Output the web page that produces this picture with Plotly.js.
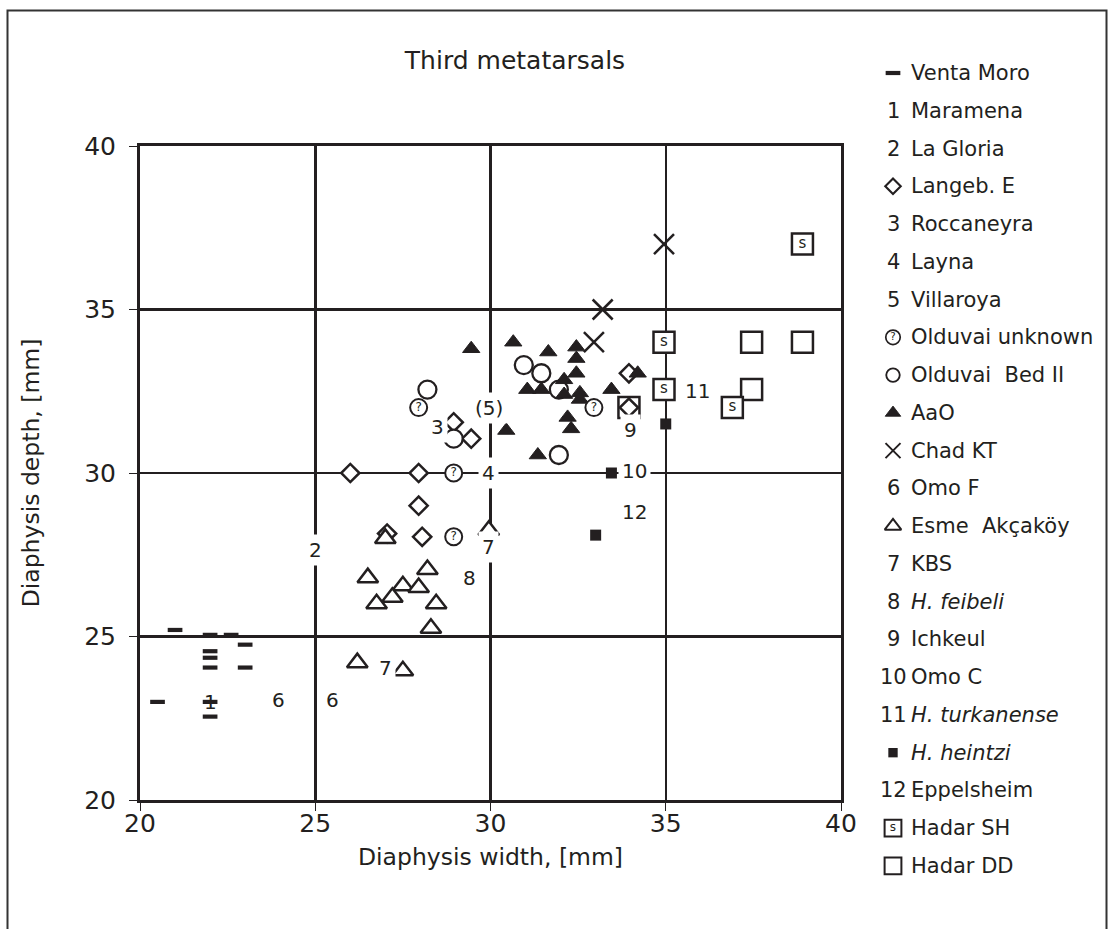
<!DOCTYPE html>
<html>
<head>
<meta charset="utf-8">
<script src="https://cdn.plot.ly/plotly-3.0.1.min.js"></script>
<style>
  html, body { margin: 0; padding: 0; background: #fff; }
  #chart { width: 1112px; height: 929px; }
</style>
</head>
<body>
<div id="chart"></div>
<script>
// ---- Measurements: diaphysis width (x) and depth (y) in mm ----
const ventaMoroX = [20.5, 21.0, 22.0, 22.6, 22.0, 22.0, 22.0, 23.0, 23.0, 22.0, 22.0];
const ventaMoroY = [23.0, 25.2, 25.05, 25.05, 24.55, 24.35, 24.05, 24.75, 24.05, 23.0, 22.55];

const langebX = [26.0, 27.95, 27.95, 28.05, 27.05, 28.95, 29.45, 33.95, 33.95];
const langebY = [30.0, 30.0, 29.0, 28.05, 28.15, 31.55, 31.05, 33.05, 32.0];

const olduvaiUnknownX = [27.95, 28.95, 28.95, 32.95];
const olduvaiUnknownY = [32.0, 30.0, 28.05, 32.0];

const olduvaiBedIIX = [28.2, 28.95, 30.95, 31.45, 31.95, 31.95];
const olduvaiBedIIY = [32.55, 31.05, 33.3, 33.05, 32.55, 30.55];

const aaoX = [29.45, 30.65, 31.65, 32.45, 32.45, 32.45, 32.1, 31.05, 31.45, 32.1, 32.55, 32.55, 33.45, 32.2, 32.3, 30.45, 31.35, 34.2];
const aaoY = [33.8, 34.0, 33.7, 33.85, 33.5, 33.05, 32.85, 32.55, 32.55, 32.4, 32.45, 32.25, 32.55, 31.7, 31.35, 31.3, 30.55, 33.05];

const chadKTX = [34.95, 33.2, 32.95];
const chadKTY = [37.0, 35.0, 34.0];

const esmeX = [29.95, 27.0, 28.2, 26.5, 27.5, 27.95, 27.2, 26.75, 28.45, 28.3, 26.2, 27.5];
const esmeY = [28.25, 28.0, 27.05, 26.8, 26.55, 26.5, 26.2, 26.0, 26.0, 25.25, 24.2, 23.95];

const heintziX = [33.45, 35.0, 33.0];
const heintziY = [30.0, 31.5, 28.1];

const hadarSHX = [38.9, 34.95, 34.95, 36.9];
const hadarSHY = [37.0, 34.0, 32.55, 32.0];

const hadarDDX = [37.45, 38.9, 37.45, 33.95];
const hadarDDY = [34.0, 34.0, 32.55, 32.0];

// Numbered localities written straight onto the plot
const labelText = ['1', '2', '3', '4', '(5)', '6', '6', '7', '7', '8', '9', '10', '11', '12'];
const labelX = [22.0, 25.0, 28.5, 29.95, 29.95, 23.95, 25.5, 29.95, 27.0, 29.4, 34.0, 34.1, 35.9, 34.1];
const labelY = [23.0, 27.65, 31.4, 30.0, 32.0, 23.05, 23.05, 27.75, 24.05, 26.8, 31.3, 30.05, 32.5, 28.8];

// Key entries, top to bottom: key glyph (number or symbol id) and caption
const keyGlyphs = ['dash', '1', '2', 'diamond', '3', '4', '5', 'query', 'circle', 'tri', 'cross',
                   '6', 'tri-open', '7', '8', '9', '10', '11', 'square', '12', 'square-s', 'square-open'];
const keyCaptions = ['Venta Moro', 'Maramena', 'La Gloria', 'Langeb. E', 'Roccaneyra', 'Layna', 'Villaroya',
                     'Olduvai unknown', 'Olduvai\u00a0 Bed II', 'AaO', 'Chad KT', 'Omo F', 'Esme\u00a0 Akçaköy', 'KBS',
                     '<i>H. feibeli</i>', 'Ichkeul', 'Omo C', '<i>H. turkanense</i>', '<i>H. heintzi</i>',
                     'Eppelsheim', 'Hadar SH', 'Hadar DD'];

// ---- Styling ----
const INK = '#231f20';
const FONT = 'DejaVu Sans, Verdana, sans-serif';
const W = 1112, H = 929;
const PLOT = { left: 140, right: 841, top: 146, bottom: 800 };
const KEY = { top: 73, step: 37.76, glyphX: 893, textX: 909 };
// the "1" sits across a Venta Moro dash, so it gets no knock-out box
const LABEL_NO_BOX = new Set([0]);

function pts(x, y, marker, extra) {
  return Object.assign({
    type: 'scatter', mode: 'markers', x: x, y: y, marker: marker,
    showlegend: false, cliponaxis: false, hoverinfo: 'x+y'
  }, extra || {});
}
const outline = (w) => ({ color: INK, width: w });

const markerStyles = {
  'dash':        { symbol: 'line-ew', size: 10.5, color: INK, line: outline(4.2) },
  'diamond':     { symbol: 'diamond', size: 14, color: '#fff', line: outline(2.5) },
  'query':       { symbol: 'circle', size: 17, color: '#fff', line: outline(2) },
  'circle':      { symbol: 'circle', size: 18, color: '#fff', line: outline(2.3) },
  'tri':         { symbol: 'triangle-up', size: 15, color: INK, line: outline(1) },
  'cross':       { symbol: 'x-thin', size: 20, color: INK, line: outline(2.5) },
  'tri-open':    { symbol: 'triangle-up', size: 18, color: '#fff', line: outline(2.5) },
  'square':      { symbol: 'square', size: 11, color: INK, line: outline(0) },
  'square-s':    { symbol: 'square', size: 21, color: '#fff', line: outline(2.5) },
  'square-open': { symbol: 'square', size: 21, color: '#fff', line: outline(2.5) }
};
const keyScale = {
  'dash': 1, 'diamond': 0.85, 'query': 0.85, 'circle': 0.75, 'tri': 0.9, 'cross': 0.75,
  'tri-open': 0.8, 'square': 0.85, 'square-s': 0.8, 'square-open': 0.8
};
const glyphText = { 'query': '?', 'square-s': 's' };
const glyphFont = { 'query': 12, 'square-s': 15 };

function withText(kind, n, scale) {
  if (!glyphText[kind]) return {};
  return {
    mode: 'markers+text',
    text: new Array(n).fill(glyphText[kind]),
    textposition: 'middle center',
    textfont: { family: FONT, size: glyphFont[kind] * scale, color: INK }
  };
}

// Drawing order matters where symbols overlap
const plotted = [
  ['square-open', hadarDDX, hadarDDY, 'Hadar DD'],
  ['dash', ventaMoroX, ventaMoroY, 'Venta Moro'],
  ['diamond', langebX, langebY, 'Langeb. E'],
  ['circle', olduvaiBedIIX, olduvaiBedIIY, 'Olduvai Bed II'],
  ['tri', aaoX, aaoY, 'AaO'],
  ['query', olduvaiUnknownX, olduvaiUnknownY, 'Olduvai unknown'],
  ['cross', chadKTX, chadKTY, 'Chad KT'],
  ['tri-open', esmeX, esmeY, 'Esme Akçaköy'],
  ['square', heintziX, heintziY, 'H. heintzi'],
  ['square-s', hadarSHX, hadarSHY, 'Hadar SH']
];

const traces = plotted.map(([kind, x, y, name]) =>
  pts(x, y, markerStyles[kind], Object.assign({ name: name }, withText(kind, x.length, 1)))
);

// Key glyphs live on a second, hidden pixel-scaled subplot
const keyRows = keyGlyphs.map((g, i) => i);
keyGlyphs.forEach((g, i) => {
  if (!markerStyles[g]) return;
  const s = keyScale[g];
  const base = markerStyles[g];
  const m = Object.assign({}, base, { size: base.size * s, line: { color: INK, width: base.line.width * (g === 'dash' ? 1 : Math.max(s, 0.8)) } });
  traces.push(pts([KEY.glyphX], [keyRows[i]], m,
    Object.assign({ xaxis: 'x2', yaxis: 'y2', hoverinfo: 'skip' }, withText(g, 1, s))));
});

const annotations = [];
labelText.forEach((t, i) => {
  annotations.push({
    x: labelX[i], y: labelY[i], xref: 'x', yref: 'y', text: t, showarrow: false,
    font: { family: FONT, size: 20, color: INK },
    bgcolor: LABEL_NO_BOX.has(i) ? 'rgba(0,0,0,0)' : '#fff', borderpad: 3
  });
});
keyGlyphs.forEach((g, i) => {
  if (!markerStyles[g]) {
    annotations.push({
      x: KEY.glyphX, y: keyRows[i], xref: 'x2', yref: 'y2', text: g, showarrow: false,
      xanchor: 'center', font: { family: FONT, size: 21, color: INK }
    });
  }
  annotations.push({
    x: KEY.textX, y: keyRows[i], xref: 'x2', yref: 'y2', text: keyCaptions[i], showarrow: false,
    xanchor: 'left', font: { family: FONT, size: 21, color: INK }
  });
});

const axisCommon = {
  range: [20, 40], tick0: 20, dtick: 5, fixedrange: true,
  showgrid: true, gridcolor: INK, gridwidth: 2.5, zeroline: false,
  showline: true, mirror: true, linecolor: INK, linewidth: 3,
  ticks: 'outside', ticklen: 8, tickwidth: 1, tickcolor: INK,
  tickfont: { family: FONT, size: 25, color: INK }
};

const layout = {
  width: W, height: H,
  margin: { l: 0, r: 0, t: 0, b: 0, pad: 0 },
  paper_bgcolor: '#fff', plot_bgcolor: 'rgba(0,0,0,0)',
  showlegend: false,
  title: {
    text: 'Third metatarsals', xref: 'paper', yref: 'paper',
    x: 515 / W, xanchor: 'center', y: 1 - 60 / H, yanchor: 'middle',
    font: { family: FONT, size: 25, color: INK }
  },
  xaxis: Object.assign({}, axisCommon, {
    domain: [PLOT.left / W, PLOT.right / W], anchor: 'y', ticklabelstandoff: -9,
    title: { text: 'Diaphysis width, [mm]', standoff: 12, font: { family: FONT, size: 23.5, color: INK } }
  }),
  yaxis: Object.assign({}, axisCommon, {
    domain: [1 - PLOT.bottom / H, 1 - PLOT.top / H], anchor: 'x', ticklabelstandoff: 8,
    title: { text: 'Diaphysis depth, [mm]', standoff: 38, font: { family: FONT, size: 23.5, color: INK } }
  }),
  xaxis2: { domain: [0, 1], range: [0, W], visible: false, anchor: 'y2', fixedrange: true },
  yaxis2: {
    domain: [0, 1], anchor: 'x2', visible: false, fixedrange: true,
    range: [(H - KEY.top) / KEY.step, -KEY.top / KEY.step]
  },
  shapes: [{
    type: 'rect', xref: 'paper', yref: 'paper', layer: 'below',
    x0: 7.5 / W, x1: 1106.5 / W, y0: -0.1, y1: 1 - 10.5 / H,
    line: { color: '#333', width: 2 }
  }],
  annotations: annotations
};

Plotly.newPlot('chart', traces, layout, { displayModeBar: false, staticPlot: true });
</script>
</body>
</html>
